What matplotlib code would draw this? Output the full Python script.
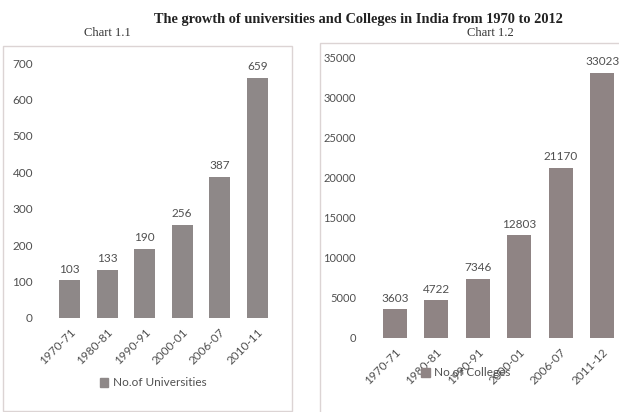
import matplotlib.pyplot as plt
from matplotlib.patches import Rectangle, Patch

plt.rcParams['font.family'] = ['Lato', 'DejaVu Sans']

# data
uni_years = ['1970-71', '1980-81', '1990-91', '2000-01', '2006-07', '2010-11']
universities = [103, 133, 190, 256, 387, 659]
col_years = ['1970-71', '1980-81', '1990-91', '2000-01', '2006-07', '2011-12']
colleges = [3603, 4722, 7346, 12803, 21170, 33023]

txt = '#505050'
bar_left = '#8e8888'
bar_right = '#8f8484'

fig = plt.figure(figsize=(6.19, 4.12), dpi=100)
W, H = 619, 412


def px_rect(x0, y0, x1, y1):
    # pixel box (top-left origin) -> figure fraction [l, b, w, h]
    return [x0 / W, 1 - y1 / H, (x1 - x0) / W, (y1 - y0) / H]


# panel frames
for x0, y0, x1, y1 in [(3, 46, 292, 411), (320, 43, 622, 414)]:
    l, b, w, h = px_rect(x0, y0, x1, y1)
    fig.patches.append(Rectangle((l, b), w, h, transform=fig.transFigure,
                                 fill=False, edgecolor='#dcd4d4', linewidth=1))

fig.text(358 / W, 1 - 20 / H,
         'The growth of universities and Colleges in India from 1970 to 2012',
         family='Liberation Serif', weight='bold', fontsize=10.4,
         ha='center', va='center', color='#222222')
fig.text(107 / W, 1 - 33 / H, 'Chart 1.1', family='Liberation Serif',
         fontsize=9, ha='center', va='center', color='#333333')
fig.text(490 / W, 1 - 33 / H, 'Chart 1.2', family='Liberation Serif',
         fontsize=9, ha='center', va='center', color='#333333')


def draw(ax, labels, values, color, ymax, step, pad, width, ysize):
    x = range(len(values))
    bars = ax.bar(x, values, width=width, color=color, edgecolor='none')
    for b, v in zip(bars, values):
        ax.annotate(str(v), (b.get_x() + b.get_width() / 2, v),
                    xytext=(0, 4), textcoords='offset points',
                    ha='center', va='bottom', fontsize=8.5, color=txt)
    ax.set_ylim(0, ymax)
    ax.set_yticks(range(0, ymax + 1, step))
    ax.set_xticks(list(x))
    ax.set_xticklabels(labels, rotation=45, ha='right', rotation_mode='anchor')
    ax.tick_params(axis='both', length=0, labelsize=8.5, labelcolor=txt)
    ax.tick_params(axis='y', pad=pad, labelsize=ysize)
    ax.tick_params(axis='x', pad=6)
    for s in ax.spines.values():
        s.set_visible(False)
    ax.set_facecolor('none')
    return bars


ax1 = fig.add_axes(px_rect(51, 63, 276, 318))
draw(ax1, uni_years, universities, bar_left, 700, 100, 13, 0.55, 8.5)
ax1.set_xlim(-0.5, 5.5)

ax2 = fig.add_axes(px_rect(374, 57, 623, 338))
draw(ax2, col_years, colleges, bar_right, 35000, 5000, 13, 0.58, 8)
ax2.set_xlim(-0.5, 5.5)

fig.legend(handles=[Patch(color=bar_left, label='No.of Universities')],
           loc='center', bbox_to_anchor=(153 / W, 1 - 383 / H), frameon=False,
           fontsize=8.5, labelcolor=txt, handlelength=0.7, handleheight=0.7,
           handletextpad=0.4)
fig.legend(handles=[Patch(color=bar_right, label='No.of Colleges')],
           loc='center', bbox_to_anchor=(466 / W, 1 - 373 / H), frameon=False,
           fontsize=8.5, labelcolor=txt, handlelength=0.7, handleheight=0.7,
           handletextpad=0.4)

fig.savefig('out.png', dpi=100, facecolor='white')
